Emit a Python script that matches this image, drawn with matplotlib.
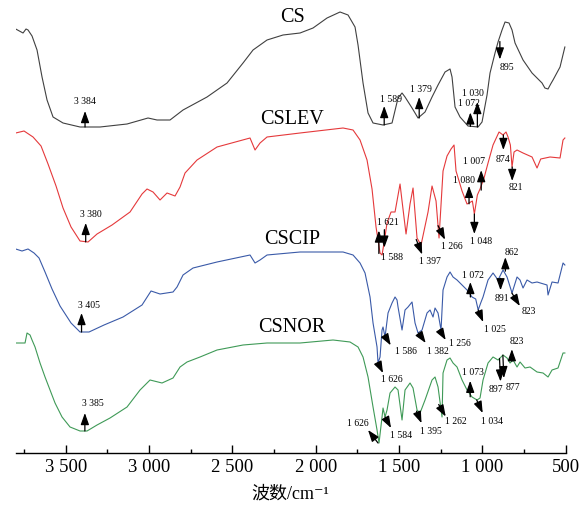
import numpy as np
import matplotlib.pyplot as plt
from matplotlib.ticker import MultipleLocator, FuncFormatter

plt.rcParams['font.family'] = ['Liberation Serif', 'Noto Sans CJK SC', 'DejaVu Sans']

# FTIR spectra: wavenumber (cm-1) and relative transmittance
cs_wn = [3800, 3756, 3738, 3726, 3702, 3672, 3642, 3612, 3576, 3516, 3414, 3294, 3132, 3006, 2952,
         2874, 2796, 2652, 2532, 2436, 2376, 2292, 2196, 2094, 2016, 1932, 1854, 1806, 1764, 1746,
         1716, 1686, 1656, 1596, 1542, 1506, 1482, 1464, 1422, 1386, 1344, 1302, 1266, 1224, 1194,
         1182, 1164, 1134, 1086, 1026, 1002, 972, 954, 924, 906, 882, 864, 840, 822, 804,
         756, 702, 642, 625, 606, 590, 576, 534, 505]
cs_t = [104, 100, 104, 103, 97, 83, 56, 33, 16, 10, 6, 6, 9, 15, 13,
        13, 23, 36, 50, 70, 83, 93, 98, 100, 105, 115, 121, 118, 106, 88,
        50, 20, 10, 8, 10, 35, 40, 36, 25, 15, 21, 36, 48, 61, 64,
        56, 26, 16, 7, 6, 11, 38, 60, 80, 91, 103, 111, 110, 103, 90,
        73, 60, 50, 45, 44, 49, 53, 66, 86]

lev_wn = [3800, 3750, 3696, 3648, 3606, 3558, 3516, 3468, 3414, 3366, 3312, 3222, 3114, 3042, 3012,
          2976, 2934, 2892, 2844, 2814, 2784, 2712, 2592, 2394, 2364, 2334, 2292, 2094, 1836, 1776,
          1734, 1692, 1662, 1638, 1614, 1602, 1590, 1572, 1548, 1524, 1494, 1482, 1458, 1434, 1416,
          1392, 1368, 1326, 1302, 1278, 1260, 1236, 1212, 1188, 1170, 1158, 1122, 1092, 1080, 1060,
          1048, 1030, 1014, 990, 966, 936, 900, 876, 858, 846, 832, 822, 810, 792, 756,
          702, 672, 650, 594, 534, 516, 505]
lev_t = [122, 124, 118, 109, 91, 69, 47, 28, 14, 13, 21, 30, 43, 61, 66,
         63, 55, 62, 59, 68, 82, 95, 108, 117, 105, 112, 118, 122, 127, 125,
         115, 95, 66, 28, 2, 0, 12, 32, 43, 43, 71, 54, 21, 51, 67,
         17, 10, 43, 69, 54, 17, 84, 99, 106, 110, 84, 64, 51, 52, 54,
         41, 60, 66, 77, 92, 110, 123, 120, 123, 118, 110, 88, 103, 105, 102,
         98, 87, 96, 98, 97, 115, 117]

cip_wn = [3800, 3762, 3726, 3690, 3660, 3624, 3582, 3534, 3468, 3414, 3360, 3270, 3156, 3042, 2988,
          2934, 2856, 2832, 2796, 2736, 2592, 2394, 2364, 2334, 2292, 2094, 1836, 1776, 1734, 1704,
          1674, 1656, 1632, 1626, 1614, 1602, 1596, 1584, 1566, 1542, 1524, 1512, 1506, 1482, 1464,
          1446, 1422, 1404, 1386, 1362, 1332, 1314, 1296, 1284, 1266, 1248, 1236, 1212, 1194, 1176,
          1152, 1134, 1092, 1062, 1040, 1025, 1010, 996, 966, 936, 906, 876, 852, 822, 792,
          774, 756, 732, 702, 672, 612, 606, 582, 546, 516, 505]
cip_t = [116, 114, 116, 112, 107, 93, 76, 59, 42, 33, 33, 40, 48, 60, 74,
         71, 73, 78, 90, 97, 103, 110, 102, 105, 110, 113, 113, 110, 102, 92,
         68, 42, 18, 2, 8, 35, 38, 28, 52, 62, 68, 65, 58, 35, 55,
         58, 63, 42, 32, 35, 52, 55, 48, 57, 52, 35, 75, 88, 93, 88,
         85, 82, 75, 68, 66, 55, 62, 68, 85, 92, 85, 95, 88, 72, 88,
         85, 77, 85, 82, 83, 80, 70, 83, 82, 102, 100]

nor_wn = [3800, 3744, 3732, 3714, 3702, 3684, 3654, 3624, 3594, 3564, 3522, 3474, 3414, 3372, 3312,
          3234, 3132, 3054, 2994, 2922, 2856, 2814, 2772, 2694, 2592, 2436, 2292, 2094, 1896, 1794,
          1746, 1716, 1686, 1656, 1632, 1620, 1602, 1596, 1584, 1572, 1554, 1524, 1506, 1482, 1464,
          1434, 1416, 1392, 1374, 1344, 1302, 1284, 1266, 1242, 1236, 1212, 1194, 1176, 1152, 1122,
          1092, 1062, 1032, 1014, 996, 966, 936, 906, 876, 852, 834, 816, 792, 774, 744,
          714, 672, 636, 606, 582, 546, 516, 505]
nor_t = [102, 102, 112, 110, 105, 98, 82, 68, 55, 42, 28, 18, 14, 14, 20,
         27, 38, 55, 65, 62, 67, 78, 83, 88, 95, 100, 102, 102, 105, 103,
         98, 88, 68, 38, 15, 2, 28, 37, 28, 35, 52, 58, 55, 25, 55,
         62, 57, 35, 32, 45, 65, 68, 58, 28, 72, 85, 87, 82, 78, 65,
         55, 48, 45, 47, 65, 82, 88, 85, 90, 87, 82, 85, 78, 83, 77,
         78, 73, 72, 68, 75, 77, 92, 92]

names = ['CS', 'CSLEV', 'CSCIP', 'CSNOR']
spectra = [(cs_wn, cs_t), (lev_wn, lev_t), (cip_wn, cip_t), (nor_wn, nor_t)]
colors = ['#404040', '#e5393b', '#3a5aa8', '#3f9a57']
offsets = [320, 198, 88, 8]
name_y = [116, 136, 125, 117]

# peak labels: (spectrum, wavenumber, anchor, arrow head offset px, label offset px)
peaks = [
    (0, 3384, 'lo', (0, 16), (0, 26)),
    (0, 1589, 'lo', (0, 19), (7, 25)),
    (0, 1379, 'lo', (0, 21), (2, 28)),
    (0, 1072, 'lo', (0, 14), (-1, 23)),
    (0, 1030, 'lo', (0, 25), (-4, 34)),
    (0, 895, 'lo', (0, -18), (7, -26)),
    (1, 3380, 'lo', (0, 19), (5, 27)),
    (1, 1621, 'lo', (0, 23), (9, 31)),
    (1, 1588, 'hi', (0, -18), (8, -28)),
    (1, 1397, 'lo', (6, -15), (14, -22)),
    (1, 1266, 'at', (7, -14), (14, -21)),
    (1, 1080, 'lo', (0, 18), (-5, 23)),
    (1, 1007, 'lo', (0, 20), (-7, 29)),
    (1, 1048, 'lo', (0, -20), (7, -27)),
    (1, 874, 'lo', (0, -15), (0, -25)),
    (1, 821, 'lo', (0, -14), (4, -21)),
    (2, 3405, 'lo', (0, 19), (7, 27)),
    (2, 1626, 'lo', (5, -10), (14, -17)),
    (2, 1586, 'at', (6, -10), (21, -16)),
    (2, 1382, 'lo', (7, -10), (19, -18)),
    (2, 1256, 'lo', (6, -10), (20, -13)),
    (2, 1072, 'lo', (0, 15), (3, 22)),
    (2, 1025, 'lo', (5, -12), (17, -19)),
    (2, 891, 'lo', (0, -12), (1, -20)),
    (2, 862, 'hi', (0, 14), (6, 19)),
    (2, 823, 'lo', (8, -13), (17, -19)),
    (3, 3385, 'lo', (0, 18), (8, 28)),
    (3, 1626, 'lo', (-10, 13), (-20, 20)),
    (3, 1584, 'lo', (6, -11), (16, -18)),
    (3, 1395, 'lo', (5, -12), (14, -20)),
    (3, 1262, 'lo', (7, -12), (17, -17)),
    (3, 1073, 'lo', (0, 16), (3, 24)),
    (3, 1034, 'lo', (6, -13), (15, -21)),
    (3, 897, 'at', (1, -23), (-4, -31)),
    (3, 877, 'at', (1, -23), (10, -32)),
    (3, 823, 'at', (0, 12), (5, 20)),
]


def spaced(v):
    s = str(int(round(v)))
    return s if len(s) < 4 else s[:-3] + ' ' + s[-3:]


def anchor_value(wn, t, x0, kind):
    x = np.asarray(wn, float)[::-1]
    y = np.asarray(t, float)[::-1]
    if kind == 'at':
        return np.interp(x0, x, y)
    vals = np.interp(np.linspace(x0 - 10, x0 + 10, 41), x, y)
    return vals.min() if kind == 'lo' else vals.max()


fig = plt.figure(figsize=(5.84, 5.08), dpi=100)
ax = fig.add_axes([15.7 / 584, 55 / 508, 550 / 584, 453 / 508])

for (wn, t), c, off in zip(spectra, colors, offsets):
    ax.plot(wn, np.asarray(t) + off, color=c, lw=0.8)

for name, off, ny in zip(names, offsets, name_y):
    ax.text(2142, off + ny, name, ha='center', va='center', fontsize=14.5)

arrow = dict(arrowstyle='<|-,head_length=0.7,head_width=0.25', color='black',
             lw=0.9, shrinkA=0, shrinkB=0, mutation_scale=10)
for i, x0, kind, head, lab in peaks:
    wn, t = spectra[i]
    y0 = anchor_value(wn, t, x0, kind) + offsets[i]
    ax.annotate('', xy=(x0, y0), xytext=head, textcoords='offset pixels', arrowprops=arrow)
    ax.annotate(spaced(x0), xy=(x0, y0), xytext=lab, textcoords='offset pixels',
                ha='center', va='center', fontsize=7)

ax.set_xlim(3800, 500)
ax.set_ylim(0, 453)
for s in ['left', 'right', 'top']:
    ax.spines[s].set_visible(False)
ax.spines['bottom'].set_linewidth(1.0)
ax.set_yticks([])
ax.xaxis.set_major_locator(MultipleLocator(500))
ax.xaxis.set_minor_locator(MultipleLocator(250))
ax.xaxis.set_major_formatter(FuncFormatter(lambda v, p: spaced(v)))
ax.tick_params(axis='x', which='major', direction='in', length=6, width=1.0,
               labelsize=13.5, pad=4)
ax.tick_params(axis='x', which='minor', direction='in', length=3, width=1.0)
ax.set_xlabel('波数/cm⁻¹', fontsize=13, labelpad=7)

fig.savefig('out.png', dpi=100)
